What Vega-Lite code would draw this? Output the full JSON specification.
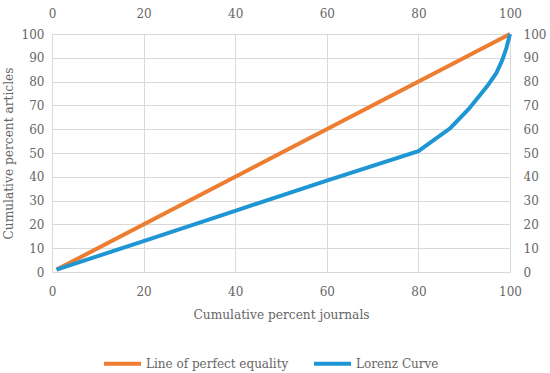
{
  "$schema": "https://vega.github.io/schema/vega-lite/v6.json",
  "width": 458,
  "height": 238,
  "autosize": {"type": "none"},
  "padding": {"left": 52, "top": 34, "right": 40, "bottom": 101},
  "background": "white",
  "config": {
    "view": {"stroke": null},
    "font": "DejaVu Serif",
    "axis": {"labelFont": "DejaVu Serif", "titleFont": "DejaVu Serif", "labelColor": "#666666", "titleColor": "#666666", "labelFontSize": 12, "titleFontSize": 12.2, "titleFontWeight": "normal", "ticks": false, "domain": false, "gridColor": "#d9d9d9", "gridWidth": 1, "labelFlush": false},
    "legend": {"labelFont": "DejaVu Serif", "labelColor": "#666666", "labelFontSize": 12}
  },
  "data": {
    "values": [
      {"series": "Line of perfect equality", "x": 1, "y": 1},
      {"series": "Line of perfect equality", "x": 100, "y": 100},
      {"series": "Lorenz Curve", "x": 1, "y": 1},
      {"series": "Lorenz Curve", "x": 20, "y": 13},
      {"series": "Lorenz Curve", "x": 40, "y": 25.7},
      {"series": "Lorenz Curve", "x": 60, "y": 38.4},
      {"series": "Lorenz Curve", "x": 80, "y": 50.8},
      {"series": "Lorenz Curve", "x": 87, "y": 60.5},
      {"series": "Lorenz Curve", "x": 91, "y": 68.5},
      {"series": "Lorenz Curve", "x": 95, "y": 78},
      {"series": "Lorenz Curve", "x": 97, "y": 83.5},
      {"series": "Lorenz Curve", "x": 98.3, "y": 89},
      {"series": "Lorenz Curve", "x": 99.2, "y": 94},
      {"series": "Lorenz Curve", "x": 100, "y": 100}
    ]
  },
  "layer": [
    {
      "mark": {"type": "line", "strokeWidth": 4, "opacity": 0},
      "encoding": {
        "x": {"field": "x", "type": "quantitative", "scale": {"domain": [0, 100], "nice": false}, "axis": {"orient": "top", "values": [0, 20, 40, 60, 80, 100], "grid": true, "title": null, "labelPadding": 14}},
        "y": {"field": "y", "type": "quantitative", "scale": {"domain": [0, 100], "nice": false}, "axis": {"orient": "right", "values": [0, 10, 20, 30, 40, 50, 60, 70, 80, 90, 100], "grid": true, "title": null, "labelPadding": 13}},
        "detail": {"field": "series"}
      }
    },
    {
      "mark": {"type": "line", "strokeWidth": 4},
      "encoding": {
        "x": {"field": "x", "type": "quantitative", "scale": {"domain": [0, 100], "nice": false}, "axis": {"orient": "bottom", "values": [0, 20, 40, 60, 80, 100], "grid": false, "title": "Cumulative percent journals", "labelPadding": 14, "titlePadding": 11}},
        "y": {"field": "y", "type": "quantitative", "scale": {"domain": [0, 100], "nice": false}, "axis": {"orient": "left", "values": [0, 10, 20, 30, 40, 50, 60, 70, 80, 90, 100], "grid": false, "title": "Cumulative percent articles", "labelPadding": 8, "titlePadding": 6}},
        "color": {"field": "series", "type": "nominal", "scale": {"domain": ["Line of perfect equality", "Lorenz Curve"], "range": ["#ED7D31", "#1E96D4"]}, "legend": {"title": null, "orient": "none", "direction": "horizontal", "legendX": 50, "legendY": 309, "symbolType": "stroke", "symbolStrokeWidth": 4, "symbolSize": 1369, "labelOffset": 3, "columnPadding": 17}}
      }
    }
  ],
  "resolve": {"axis": {"x": "independent", "y": "independent"}}
}
